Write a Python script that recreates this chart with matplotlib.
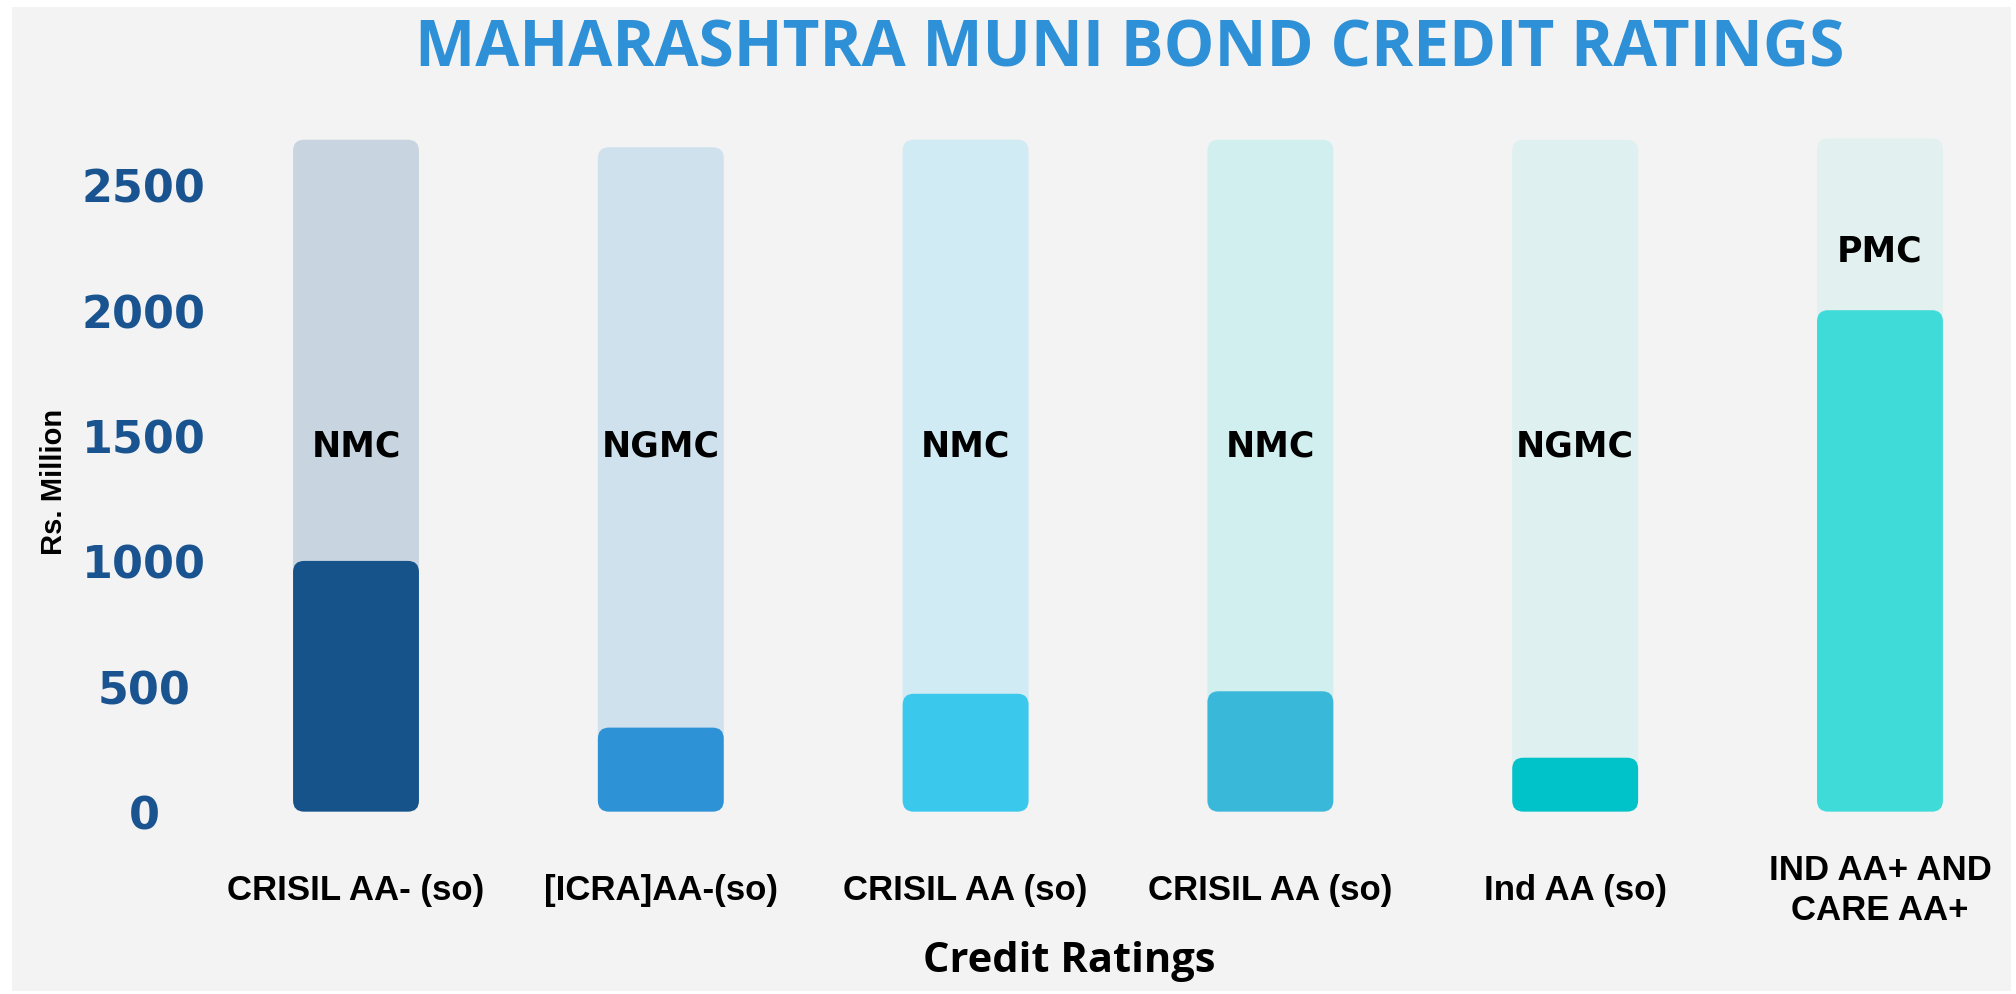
import matplotlib
matplotlib.use("Agg")
import matplotlib.pyplot as plt
from matplotlib.patches import FancyBboxPatch, Rectangle

# chart data
ratings = ["CRISIL AA- (so)", "[ICRA]AA-(so)", "CRISIL AA (so)", "CRISIL AA (so)",
           "Ind AA (so)", "IND AA+ AND\nCARE AA+"]
issuers = ["NMC", "NGMC", "NMC", "NMC", "NGMC", "PMC"]
amounts = [1000, 335, 470, 480, 215, 2000]
track = [2680, 2650, 2680, 2680, 2680, 2685]
yticks = [0, 500, 1000, 1500, 2000, 2500]

bar_colors = ["#15538A", "#2E92D6", "#3AC8EC", "#3AB8DA", "#00C2C9", "#3FDBD8"]
track_colors = ["#C8D4E0", "#CEE1ED", "#D0EBF3", "#D0EFEE", "#DEF0F0", "#E2F0F0"]

narrow = ["Liberation Sans", "DejaVu Sans"]
opens = ["Open Sans", "DejaVu Sans"]

fig = plt.figure(figsize=(20.16, 9.95), dpi=100)
fig.patch.set_facecolor("white")
# grey card behind everything
card = Rectangle((12 / 2016, 3 / 995), 1999 / 2016, 984 / 995,
                 transform=fig.transFigure, facecolor="#F3F3F3",
                 edgecolor="none", zorder=-5)
fig.patches.append(card)

ax = fig.add_axes([0.101, 0.1833, 0.892, 0.7055])
ax.set_zorder(1)
ax.set_facecolor("none")
ax.set_xlim(-0.5, 5.4)
ax.set_ylim(0, 2800)
for s in ax.spines.values():
    s.set_visible(False)

x = list(range(len(ratings)))
width = 0.413

# data units per pixel, so the corner rounding looks round
fig.canvas.draw()
p0 = ax.transData.transform((0, 0))
p1 = ax.transData.transform((1, 1))
aspect = (p1[0] - p0[0]) / (p1[1] - p0[1])
rs = 11 / (p1[0] - p0[0])


def rounded(bars, colors, z):
    for b, c in zip(bars, colors):
        b.set_visible(False)
        ax.add_patch(FancyBboxPatch((b.get_x(), b.get_y()), b.get_width(), b.get_height(),
                                    boxstyle=f"round,pad=0,rounding_size={rs}",
                                    mutation_aspect=aspect, facecolor=c,
                                    edgecolor="none", zorder=z))


bg = ax.bar(x, track, width=width, color=track_colors)
rounded(bg, track_colors, 1)
fg = ax.bar(x, amounts, width=width, color=bar_colors)
rounded(fg, bar_colors, 2)

for xi, name, val in zip(x, issuers, amounts):
    ly = val + 240 if val > 1500 else 1460
    ax.text(xi, ly, name, ha="center", va="center", fontsize=25,
            fontweight="bold", color="black", zorder=3)

ax.set_yticks(yticks)
ax.set_yticklabels([str(t) for t in yticks], fontsize=32, fontweight="bold",
                   color="#1A5490")
for lab in ax.get_yticklabels():
    lab.set_horizontalalignment("center")
ax.tick_params(axis="y", length=0, pad=43)

ax.set_xticks(x)
ax.set_xticklabels(ratings, fontsize=25, fontweight="bold", color="black",
                   family=narrow, linespacing=1.25)
for lab in ax.get_xticklabels():
    lab.set_verticalalignment("center")
ax.tick_params(axis="x", length=0, pad=56)

fig.text(54 / 2016, 1 - 482 / 995, "Rs. Million", rotation=90, ha="center", va="center",
         fontsize=21, fontweight="bold", family=narrow)
fig.text(1069 / 2016, 1 - 962 / 995, "Credit Ratings", ha="center", va="center",
         fontsize=30, fontweight="bold", family=opens)
fig.text(1130 / 2016, 1 - 50 / 995, "MAHARASHTRA MUNI BOND CREDIT RATINGS", ha="center",
         va="center", fontsize=46, fontweight="bold", color="#2E90D6", family=opens)

fig.savefig("out.png", dpi=100)
